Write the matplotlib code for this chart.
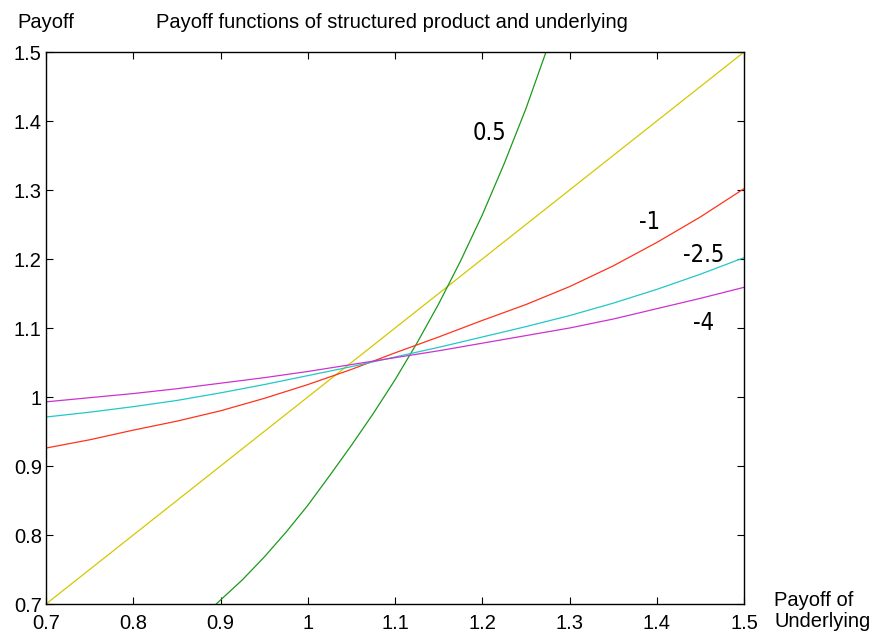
import matplotlib
matplotlib.use("Agg")
import matplotlib.pyplot as plt

plt.rcParams['font.family'] = ['Liberation Sans', 'DejaVu Sans']

# underlying payoff grid and the three flatter product payoffs
x = [0.70, 0.75, 0.80, 0.85, 0.90, 0.95, 1.00, 1.05, 1.10,
     1.15, 1.20, 1.25, 1.30, 1.35, 1.40, 1.45, 1.50]
red = [0.926, 0.938, 0.952, 0.965, 0.980, 0.998, 1.018, 1.040, 1.064,
       1.087, 1.111, 1.134, 1.160, 1.190, 1.224, 1.261, 1.302]
cyan = [0.971, 0.978, 0.986, 0.995, 1.006, 1.018, 1.031, 1.044, 1.058,
        1.072, 1.087, 1.102, 1.118, 1.136, 1.156, 1.178, 1.202]
magenta = [0.993, 0.999, 1.005, 1.012, 1.020, 1.028, 1.037, 1.047, 1.057,
           1.067, 1.078, 1.089, 1.100, 1.113, 1.128, 1.143, 1.159]

# steep product payoff (0.5)
x_green = [0.895, 0.925, 0.950, 0.975, 1.000, 1.025, 1.050, 1.075,
           1.100, 1.125, 1.150, 1.175, 1.200, 1.225, 1.250, 1.273]
green = [0.700, 0.735, 0.768, 0.804, 0.843, 0.886, 0.930, 0.976,
         1.025, 1.078, 1.135, 1.197, 1.264, 1.338, 1.418, 1.500]

# underlying itself
x_yellow = [0.7, 1.5]
yellow = [0.7, 1.5]

curve_labels = ['0.5', '-1', '-2.5', '-4']
label_pos = [(1.208, 1.383), (1.392, 1.254), (1.454, 1.206), (1.453, 1.107)]

fig = plt.figure(figsize=(8.72, 6.32), dpi=100)
ax = fig.add_axes([0.0528, 0.0443, 0.8005, 0.8734])

ax.plot(x_yellow, yellow, color='#d4c800', lw=0.9)
ax.plot(x_green, green, color='#1a9a1a', lw=0.9)
ax.plot(x, red, color='#ff3319', lw=0.9)
ax.plot(x, cyan, color='#22c8c8', lw=0.9)
ax.plot(x, magenta, color='#cc33cc', lw=0.9)

for txt, (tx, ty) in zip(curve_labels, label_pos):
    ax.text(tx, ty, txt, fontsize=17, ha='center', va='center',
            family='DejaVu Sans', fontstretch='condensed')

ax.set_xlim(0.7, 1.5)
ax.set_ylim(0.7, 1.5)
ticks = [0.7, 0.8, 0.9, 1.0, 1.1, 1.2, 1.3, 1.4, 1.5]
ticklabels = ['0.7', '0.8', '0.9', '1', '1.1', '1.2', '1.3', '1.4', '1.5']
ax.set_xticks(ticks)
ax.set_xticklabels(ticklabels)
ax.set_yticks(ticks)
ax.set_yticklabels(ticklabels)
ax.tick_params(direction='in', length=5, width=0.8, top=True, right=True,
               labelsize=14.5)
ax.tick_params(axis='x', pad=7)
ax.tick_params(axis='y', pad=3)
for s in ax.spines.values():
    s.set_linewidth(1.0)

fig.text(0.052, 0.965, 'Payoff', fontsize=14.5, ha='center', va='center')
fig.text(0.450, 0.965, 'Payoff functions of structured product and underlying',
         fontsize=14.5, ha='center', va='center')
fig.text(0.888, 0.033, 'Payoff of\nUnderlying', fontsize=14.5, ha='left',
         va='center', linespacing=1.1)

fig.savefig('out.png', dpi=100)
